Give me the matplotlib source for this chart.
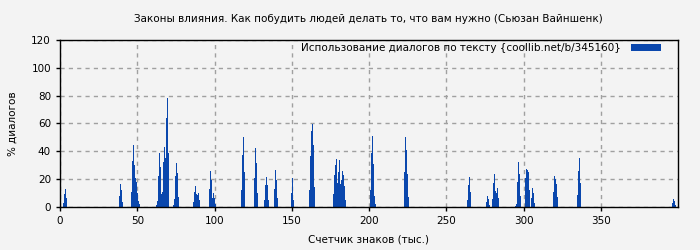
#!/usr/bin/env python3
"""Dialogue share along the text of one book, as a spike bar chart."""

import matplotlib
import matplotlib.pyplot as plt

matplotlib.use("Agg")  # headless

TITLE = "Законы влияния. Как побудить людей делать то, что вам нужно (Сьюзан Вайншенк)"
SERIES = "Использование диалогов по тексту {coollib.net/b/345160}"
X_LABEL = "Счетчик знаков (тыс.)"
Y_LABEL = "% диалогов"

BIN_K = 0.647  # thousand characters per bin

# start bin of each burst of dialogue and the % values of its consecutive bins
burst_start = [3, 59, 71, 96, 113, 133, 149, 181, 194, 204, 214, 231,
               249, 273, 310, 344, 407, 426, 432, 455, 465, 471, 493, 517, 612]
burst_pct = [
    [3, 9.5, 13, 6.5],
    [8, 16.7, 12.4, 3.8],
    [11, 33, 44.5, 30, 21, 18, 10, 4, 2],
    [1.4, 4.5, 22.4, 38.8, 28.8, 9.5, 11, 32.4, 43, 35, 64, 78, 38.8],
    [1.5, 6, 22, 31.7, 24.5, 7.5],
    [3.8, 11, 15, 9.5, 8.8, 10.2, 5.2],
    [13, 26, 19.5, 6.7, 10.2, 6.7, 2.4],
    [12.4, 37.4, 50, 25],
    [21, 42.4, 31.7, 10.2],
    [5.2, 16, 21.7, 16, 5.2],
    [13, 26.7, 19.5, 6.7],
    [10.2, 21, 5.2],
    [12.4, 36.7, 54.5, 59.5, 44.5, 14.5],
    [9.5, 23, 30.2, 34.5, 17.4, 25.2, 33.8, 16.7, 19.5, 26, 23, 15.2, 5.2],
    [12.4, 38.8, 51, 31, 8, 2.4],
    [25.2, 50, 41, 23.8, 7.4],
    [5.2, 16, 21.7, 11],
    [3.8, 8, 6, 1.7],
    [6, 17.4, 23.8, 11.7, 10.2, 13.8, 6.7],
    [1, 2.4, 18, 32.4, 23.8, 8],
    [21, 27.4, 26.7, 25.2, 12.4],
    [6.7, 13.8, 10.2, 3],
    [11, 22.4, 20, 16.7, 7.4],
    [8.8, 26, 35.2, 17.4],
    [3, 6, 4.5, 1.7],
]

X_TICKS = [0, 50, 100, 150, 200, 250, 300, 350]
Y_TICKS = [0, 20, 40, 60, 80, 100, 120]

BAR_COLOR = "#0a47ad"
BG = "#f3f3f3"
FS = 7.5


def main() -> None:
    chars_k: list[float] = []
    pct: list[float] = []
    for start, vals in zip(burst_start, burst_pct):
        for i, v in enumerate(vals):
            chars_k.append((start + i) * BIN_K)
            pct.append(v)

    plt.rcParams["font.family"] = ["DejaVu Sans"]
    plt.rcParams["font.size"] = FS

    fig = plt.figure(figsize=(7, 2.5), dpi=100, facecolor=BG)
    ax = fig.add_axes([60 / 700, 1 - 207 / 250, 618 / 700, 167 / 250], facecolor=BG)

    ax.bar(chars_k, pct, width=BIN_K, align="edge", color=BAR_COLOR,
           linewidth=0, label=SERIES)

    ax.set_xlim(0, 400)
    ax.set_ylim(0, 120)
    ax.set_xticks(X_TICKS)
    ax.set_yticks(Y_TICKS)
    ax.tick_params(direction="out", length=3, width=1, colors="black", labelsize=FS)
    ax.grid(True, color="#a0a0a0", linestyle=(0, (3, 3)), linewidth=1)
    ax.set_axisbelow(True)
    for sp in ax.spines.values():
        sp.set_linewidth(1)
        sp.set_color("black")

    ax.set_xlabel(X_LABEL, fontsize=FS, labelpad=6)
    ax.set_ylabel(Y_LABEL, fontsize=FS, labelpad=10)
    fig.text(368 / 700, 1 - 19 / 250, TITLE, ha="center", va="center", fontsize=FS)

    ax.legend(loc="upper right", bbox_to_anchor=(1 - 14 / 618, 1), frameon=False,
              markerfirst=False, handlelength=2.9, handleheight=0.6, fontsize=FS,
              borderaxespad=0, borderpad=0.3, handletextpad=0.9)

    fig.savefig("out.png", dpi=100, facecolor=BG)
    plt.close(fig)


if __name__ == "__main__":
    main()
